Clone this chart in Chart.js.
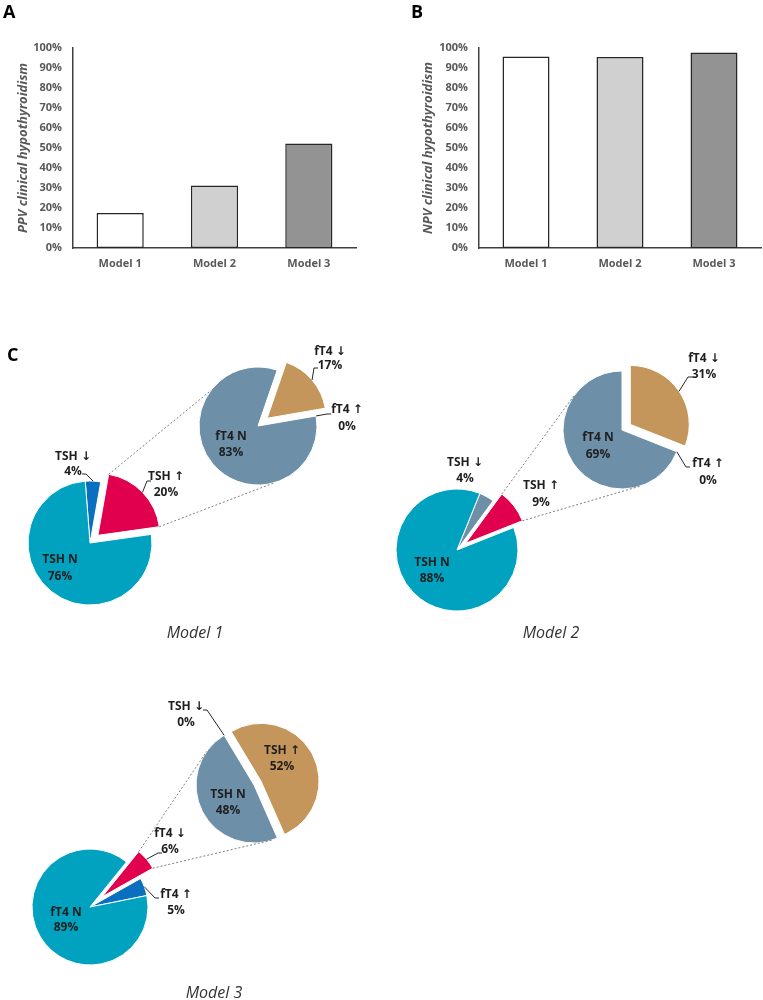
<!DOCTYPE html>
<html>
<head>
<meta charset="utf-8">
<script src="https://cdn.jsdelivr.net/npm/chart.js@4.4.0/dist/chart.umd.min.js"></script>
<style>
  body { margin: 0; background: #fff; }
  #wrap { position: relative; width: 763px; height: 1000px; overflow: hidden; font-family: 'Open Sans', 'DejaVu Sans', sans-serif; }
  canvas { position: absolute; }
  .panel { position: absolute; font-weight: bold; font-size: 18px; line-height: 18px; color: #000; }
  .caption { position: absolute; font-style: italic; font-size: 16px; line-height: 16px; color: #333; transform: translate(-50%, -50%); white-space: nowrap; }
</style>
</head>
<body>
<div id="wrap">
  <canvas id="barA" width="380" height="290" style="left:0;top:0"></canvas>
  <canvas id="barB" width="383" height="290" style="left:380px;top:0"></canvas>
  <canvas id="pie1" width="763" height="1000" style="left:0;top:0"></canvas>
  <canvas id="pie1z" width="763" height="1000" style="left:0;top:0"></canvas>
  <canvas id="pie2" width="763" height="1000" style="left:0;top:0"></canvas>
  <canvas id="pie2z" width="763" height="1000" style="left:0;top:0"></canvas>
  <canvas id="pie3" width="763" height="1000" style="left:0;top:0"></canvas>
  <canvas id="pie3z" width="763" height="1000" style="left:0;top:0"></canvas>
  <div class="panel" style="left:3px;top:2px">A</div>
  <div class="panel" style="left:411px;top:2px">B</div>
  <div class="panel" style="left:7px;top:345px">C</div>
  <div class="caption" style="left:195px;top:632px">Model 1</div>
  <div class="caption" style="left:551px;top:632px">Model 2</div>
  <div class="caption" style="left:214px;top:992px">Model 3</div>
</div>
<script>
// bar data
const barCategories = ['Model 1', 'Model 2', 'Model 3'];
const ppvValues = [17.5, 31.3, 52.3];
const npvValues = [95.8, 95.5, 97.8];

// pie data
const model1Labels = ['TSH ↓', 'TSH ↑', 'TSH N'];
const model1Values = [4, 20, 76];
const model1ZoomLabels = ['fT4 ↓', 'fT4 ↑', 'fT4 N'];
const model1ZoomValues = [17, 0, 83];

const model2Labels = ['TSH ↓', 'TSH ↑', 'TSH N'];
const model2Values = [4, 9, 88];
const model2ZoomLabels = ['fT4 ↓', 'fT4 ↑', 'fT4 N'];
const model2ZoomValues = [31, 0, 69];

const model3Labels = ['fT4 ↓', 'fT4 ↑', 'fT4 N'];
const model3Values = [6, 5, 89];
const model3ZoomLabels = ['TSH ↑', 'TSH N', 'TSH ↓'];
const model3ZoomValues = [52, 48, 0];

const FONT = "'Open Sans', 'DejaVu Sans', sans-serif";
const TEAL = '#00a2c0', BLUE = '#0b6fc0', RED = '#e0004e', STEEL = '#6d8fa8', TAN = '#c4965c';
const W = 763, H = 1000;

function barChart(id, values, title, padLeft, padRight, yWidth) {
  const tickFont = { family: FONT, size: 11, weight: 'bold' };
  return new Chart(document.getElementById(id), {
    type: 'bar',
    data: {
      labels: barCategories,
      datasets: [{
        data: values,
        backgroundColor: ['#ffffff', '#d0d0d0', '#939393'],
        borderColor: '#262626',
        borderWidth: 1.5,
        borderSkipped: false,
        barPercentage: 0.5,
        categoryPercentage: 1
      }]
    },
    options: {
      responsive: false,
      animation: false,
      events: [],
      layout: { padding: { left: padLeft, right: padRight, top: 48, bottom: 0 } },
      plugins: { legend: { display: false }, tooltip: { enabled: false } },
      scales: {
        x: {
          grid: { display: false, drawTicks: false },
          border: { color: '#404040', width: 1.5 },
          ticks: { color: '#595959', font: tickFont, padding: 9 },
          afterFit: s => { s.height = 42; }
        },
        y: {
          min: 0, max: 100,
          grid: { display: false, drawTicks: false },
          border: { color: '#404040', width: 1.5 },
          ticks: { stepSize: 10, color: '#595959', font: tickFont, padding: 11, callback: v => v + '%' },
          title: {
            display: true, text: title, color: '#595959',
            font: { family: FONT, size: 13, style: 'italic', weight: 'bold' },
            padding: { top: 4, bottom: 0 }
          },
          afterFit: s => { s.width = yWidth; }
        }
      }
    }
  });
}

barChart('barA', ppvValues, 'PPV clinical hypothyroidism', 11, 24, 62);
barChart('barB', npvValues, 'NPV clinical hypothyroidism', 36, 2, 63);

// pull slices out of the pie by a number of pixels
const explodePlugin = dists => ({
  id: 'explode',
  afterDatasetUpdate(chart, args) {
    args.meta.data.forEach((arc, i) => {
      const d = dists[i] || 0;
      if (!d) return;
      const mid = (arc.startAngle + arc.endAngle) / 2;
      arc.x += Math.cos(mid) * d;
      arc.y += Math.sin(mid) * d;
    });
  }
});

// two-line slice labels, with optional leader line to the slice edge
const labelPlugin = items => ({
  id: 'sliceLabels',
  afterDatasetsDraw(chart) {
    const ctx = chart.ctx;
    const arcs = chart.getDatasetMeta(0).data;
    const labels = chart.data.labels;
    const values = chart.data.datasets[0].data;
    ctx.save();
    ctx.font = 'bold 12px ' + FONT;
    ctx.textAlign = 'center';
    ctx.textBaseline = 'middle';
    ctx.fillStyle = '#1f1f1f';
    ctx.strokeStyle = '#262626';
    ctx.lineWidth = 1;
    items.forEach((it, i) => {
      const arc = arcs[i];
      ctx.fillText(labels[i], it.x, it.y[0]);
      ctx.fillText(values[i] + '%', it.x, it.y[1]);
      if (it.lead) {
        const ang = arc.endAngle - arc.startAngle > 0.001 ? (arc.startAngle + arc.endAngle) / 2 : arc.startAngle;
        const ax = arc.x + Math.cos(ang) * arc.outerRadius;
        const ay = arc.y + Math.sin(ang) * arc.outerRadius;
        const [sx, sy] = it.lead;
        const tx = sx + (ax > sx ? 4 : -4);
        ctx.beginPath();
        ctx.moveTo(sx, sy);
        ctx.lineTo(tx, sy);
        ctx.lineTo(ax, ay);
        ctx.stroke();
      }
    });
    ctx.restore();
  }
});

// dotted lines from the pulled slice of the small pie to the zoom pie
const connectorPlugin = (small, idx) => ({
  id: 'connector',
  afterDraw(chart) {
    const arc = small.getDatasetMeta(0).data[idx];
    const sa = small.chartArea, ba = chart.chartArea;
    const scx = (sa.left + sa.right) / 2, scy = (sa.top + sa.bottom) / 2;
    const bcx = (ba.left + ba.right) / 2, bcy = (ba.top + ba.bottom) / 2;
    const R = chart.getDatasetMeta(0).controller.outerRadius;
    const dir = Math.atan2(bcy - scy, bcx - scx);
    const spread = 108 * Math.PI / 180;
    const r = arc.outerRadius;
    const ctx = chart.ctx;
    ctx.save();
    ctx.strokeStyle = '#7f7f7f';
    ctx.lineWidth = 1;
    ctx.setLineDash([2, 2]);
    ctx.beginPath();
    ctx.moveTo(arc.x + Math.cos(arc.startAngle) * r, arc.y + Math.sin(arc.startAngle) * r);
    ctx.lineTo(bcx + Math.cos(dir - spread) * R, bcy + Math.sin(dir - spread) * R);
    ctx.moveTo(arc.x + Math.cos(arc.endAngle) * r, arc.y + Math.sin(arc.endAngle) * r);
    ctx.lineTo(bcx + Math.cos(dir + spread) * R, bcy + Math.sin(dir + spread) * R);
    ctx.stroke();
    ctx.restore();
  }
});

function pieChart(id, s) {
  const h = s.r + 20;
  const plugins = [explodePlugin(s.explode), labelPlugin(s.items)];
  if (s.link) plugins.push(connectorPlugin(s.link.chart, s.link.index));
  return new Chart(document.getElementById(id), {
    type: 'pie',
    data: {
      labels: s.labels,
      datasets: [{
        data: s.values,
        backgroundColor: s.colors,
        borderColor: '#ffffff',
        borderWidth: 1,
        rotation: s.rotation
      }]
    },
    options: {
      responsive: false,
      animation: false,
      events: [],
      radius: s.r,
      layout: { padding: { left: s.cx - h, top: s.cy - h, right: W - s.cx - h, bottom: H - s.cy - h } },
      plugins: { legend: { display: false }, tooltip: { enabled: false } }
    },
    plugins
  });
}

const pie1 = pieChart('pie1', {
  labels: model1Labels, values: model1Values, colors: [BLUE, RED, TEAL],
  cx: 90, cy: 543, r: 62, rotation: -4.4, explode: [0, 11, 0],
  items: [
    { x: 73, y: [457, 472], lead: [82, 474] },
    { x: 166, y: [477, 493], lead: [151, 481] },
    { x: 60, y: [560, 577] }
  ]
});
pieChart('pie1z', {
  labels: model1ZoomLabels, values: model1ZoomValues, colors: [TAN, STEEL, STEEL],
  cx: 258, cy: 426, r: 59, rotation: 19, explode: [12, 0, 0],
  items: [
    { x: 330, y: [352, 366], lead: [318, 368] },
    { x: 347, y: [410, 427], lead: [331, 414] },
    { x: 231, y: [437, 453] }
  ],
  link: { chart: pie1, index: 1 }
});

const pie2 = pieChart('pie2', {
  labels: model2Labels, values: model2Values, colors: [STEEL, RED, TEAL],
  cx: 457, cy: 550, r: 61, rotation: 22, explode: [0, 11, 0],
  items: [
    { x: 465, y: [463, 479] },
    { x: 541, y: [486, 503] },
    { x: 432, y: [563, 579] }
  ]
});
pieChart('pie2z', {
  labels: model2ZoomLabels, values: model2ZoomValues, colors: [TAN, STEEL, STEEL],
  cx: 622, cy: 430, r: 59, rotation: 0, explode: [10, 0, 0],
  items: [
    { x: 704, y: [359, 375], lead: [692, 377] },
    { x: 708, y: [464, 481], lead: [690, 467] },
    { x: 598, y: [438, 455] }
  ],
  link: { chart: pie2, index: 1 }
});

const pie3 = pieChart('pie3', {
  labels: model3Labels, values: model3Values, colors: [RED, BLUE, TEAL],
  cx: 90, cy: 907, r: 58, rotation: 39, explode: [16, 0, 0],
  items: [
    { x: 170, y: [834, 850], lead: [162, 853] },
    { x: 176, y: [895, 911], lead: [159, 898] },
    { x: 66, y: [913, 928] }
  ]
});
pieChart('pie3z', {
  labels: model3ZoomLabels, values: model3ZoomValues, colors: [TAN, STEEL, STEEL],
  cx: 254, cy: 785, r: 58, rotation: -31, explode: [8, 0, 0],
  items: [
    { x: 282, y: [751, 767] },
    { x: 228, y: [795, 811] },
    { x: 186, y: [707, 723], lead: [203, 710] }
  ],
  link: { chart: pie3, index: 0 }
});
</script>
</body>
</html>
